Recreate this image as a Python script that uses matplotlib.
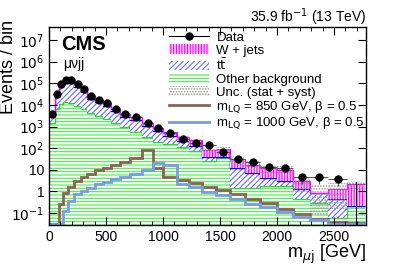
import numpy as np
import matplotlib
matplotlib.use("Agg")
import matplotlib.pyplot as plt
from matplotlib.ticker import FixedLocator, NullFormatter, FuncFormatter, MultipleLocator
from matplotlib.lines import Line2D
from matplotlib.patches import Patch

plt.rcParams['font.family'] = ['Liberation Sans', 'DejaVu Sans']
plt.rcParams['hatch.linewidth'] = 0.8

edges = [0, 50, 88, 123, 167, 219, 281, 333, 403, 474, 544, 623, 710, 816, 912, 1000,
         1123, 1225, 1346, 1465, 1588, 1719, 1851, 2000, 2140, 2289, 2447, 2614, 2772]

data = [3900, 33000, 95000, 145000, 145000, 95000, 56000, 26500, 17400, 12600, 6700, 3900,
        2800, 1500, 890, 525, 275, 180, 138, 63, 33, 24, 14, 11.5, 4.4, 4.4, 3.6, 0]

other = [1500, 6600, 11400, 14000, 12600, 9100, 6600, 4400, 3200, 2300, 1500, 1000,
         580, 340, 200, 150, 110, 75, 25, 35, 1.5, 1.5, 1.8, 1.8, 0.43, 0.30, 0.06, 0.21]
ttbar = [1500, 17000, 55000, 88000, 90000, 58000, 33000, 15000, 9800, 6800, 3500, 1900,
         1400, 720, 420, 230, 95, 55, 16, 6, 10.9, 5.8, 2.5, 1.2, 0.81, 0.57, 0.37, 0.0]
wjets = [900, 9400, 28600, 43000, 42400, 27900, 16400, 7100, 4400, 3500, 1700, 1000,
         820, 440, 270, 150, 125, 100, 40, 52, 17.6, 10, 8.1, 7.3, 1.76, 0.0, 0.81, 1.9]
unc = [200, 1000, 2500, 4000, 4000, 2800, 1600, 900, 600, 450, 280, 180,
       140, 90, 60, 40, 30, 25, 12, 17, 12, 7.5, 5, 4.3, 2.1, 1.2, 1.1, 0.8]

lq850 = [0.031, 0.031, 0.25, 0.87, 1.6, 3.0, 4.6, 6.5, 9.3, 12.3, 16, 22, 36, 78, 11.5, 4.8,
         3.3, 2.4, 1.6, 1.15, 0.78, 0.46, 0.29, 0.16, 0.094, 0.055, 0.039, 0.035]
lq1000 = [0.031, 0.031, 0.031, 0.13, 0.35, 0.73, 1.03, 1.5, 2.1, 2.8, 3.6, 4.6, 6.5, 9.3,
          21, 16, 2.2, 1.6, 0.93, 0.65, 0.46, 0.27, 0.19, 0.11, 0.065, 0.046, 0.032, 0.031]

e = np.array(edges, float)
cen = 0.5 * (e[1:] + e[:-1])
hw = 0.5 * (e[1:] - e[:-1])
o = np.array(other, float)
t = o + np.array(ttbar, float)
w = t + np.array(wjets, float)
u = np.array(unc, float)

fig = plt.figure(figsize=(4.07, 2.67), dpi=100)
ax = fig.add_axes([49/407, 1-225/267, (366-49)/407, (225-27)/267])

ymin, ymax = 0.028, 4e7
base = np.full_like(o, ymin * 0.5)

ax.stairs(o, e, baseline=base, fill=True, facecolor='white', edgecolor='#44ee44', hatch='-----', linewidth=0)
ax.stairs(o, e, baseline=None, color='#22dd22', lw=1.0)
ax.stairs(t, e, baseline=o, fill=True, facecolor='white', edgecolor='#6a6aff', hatch='//////', linewidth=0)
ax.stairs(t, e, baseline=None, color='#0000ff', lw=1.0)
ax.stairs(w, e, baseline=t, fill=True, facecolor='#ffc8ff', edgecolor='#ff00ff', hatch='||||||', linewidth=0)
ax.stairs(w, e, baseline=None, color='#ff00ff', lw=0.8)
ax.stairs(w + u, e, baseline=np.maximum(w - u, 0.07), fill=True, facecolor='none',
          edgecolor='#999999', hatch='......', linewidth=0)

ax.stairs(lq850, e, baseline=None, color='#8b6355', lw=2.0)
ax.stairs(lq1000, e, baseline=None, color='#7b9be0', lw=2.0)

d = np.array(data, float)
m = d > 0
err = np.sqrt(d)
ax.errorbar(cen[m], d[m], xerr=hw[m], yerr=err[m], fmt='o', color='black', ms=5,
            elinewidth=0.8, ecolor='#555555', capsize=0)
ax.plot([cen[~m][0]]*2, [ymin*0.5, 2.6], color='black', lw=0.8)

ax.set_yscale('log')
ax.set_xlim(0, 2780)
ax.set_ylim(ymin, ymax)
ax.xaxis.set_major_locator(MultipleLocator(500))
ax.xaxis.set_minor_locator(MultipleLocator(100))
def yfmt(v, pos):
    ex = int(round(np.log10(v)))
    if ex == 0:
        return '1'
    if ex == 1:
        return '10'
    return r'$10^{%d}$' % ex
ax.yaxis.set_major_locator(FixedLocator([10.0**k for k in range(-1, 8)]))
ax.yaxis.set_major_formatter(FuncFormatter(yfmt))
ax.yaxis.set_minor_formatter(NullFormatter())
ax.tick_params(which='both', direction='in', top=True, right=True, labelsize=10)
ax.tick_params(which='major', length=6)
ax.tick_params(which='minor', length=3)
for s in ax.spines.values():
    s.set_linewidth(1.0)

fig.text(9/407, 1-20/267, 'Events / bin', rotation=90, ha='center', va='top', fontsize=13)
fig.text(366/407, 1-254/267, r'm$_{\mu\mathrm{j}}$ [GeV]', ha='right', va='center', fontsize=13)

fig.text(366/407, 1-17/267, r'35.9 fb$^{-1}$ (13 TeV)', ha='right', va='center', fontsize=10)
fig.text(61/407, 1-45/267, 'CMS', fontsize=14.5, fontweight='bold', va='center')
fig.text(63/407, 1-64/267, 'μνjj', fontsize=10, va='center')

handles = [
    Line2D([], [], color='black', marker='o', ms=5, lw=0.8),
    Patch(facecolor='#ffc8ff', edgecolor='#ff00ff', hatch='||||||', lw=0),
    Patch(facecolor='white', edgecolor='#6a6aff', hatch='//////', lw=0),
    Patch(facecolor='white', edgecolor='#44ee44', hatch='-----', lw=0),
    Patch(facecolor='white', edgecolor='#999999', hatch='......', lw=0),
    Line2D([], [], color='#8b6355', lw=2),
    Line2D([], [], color='#7b9be0', lw=2),
]
labels = ['Data', 'W + jets', r't$\bar{\mathrm{t}}$', 'Other background', 'Unc. (stat + syst)',
          r'm$_{\mathrm{LQ}}$ = 850 GeV, β = 0.5', r'm$_{\mathrm{LQ}}$ = 1000 GeV, β = 0.5']
ax.legend(handles, labels, loc='upper left', bbox_to_anchor=(118/317, 1.0 - 2.5/198), frameon=False,
          fontsize=9.5, handlelength=3.0, handleheight=0.7, handletextpad=0.6, labelspacing=0.05,
          borderaxespad=0.0, borderpad=0.15)

fig.savefig('out.png', dpi=100)
